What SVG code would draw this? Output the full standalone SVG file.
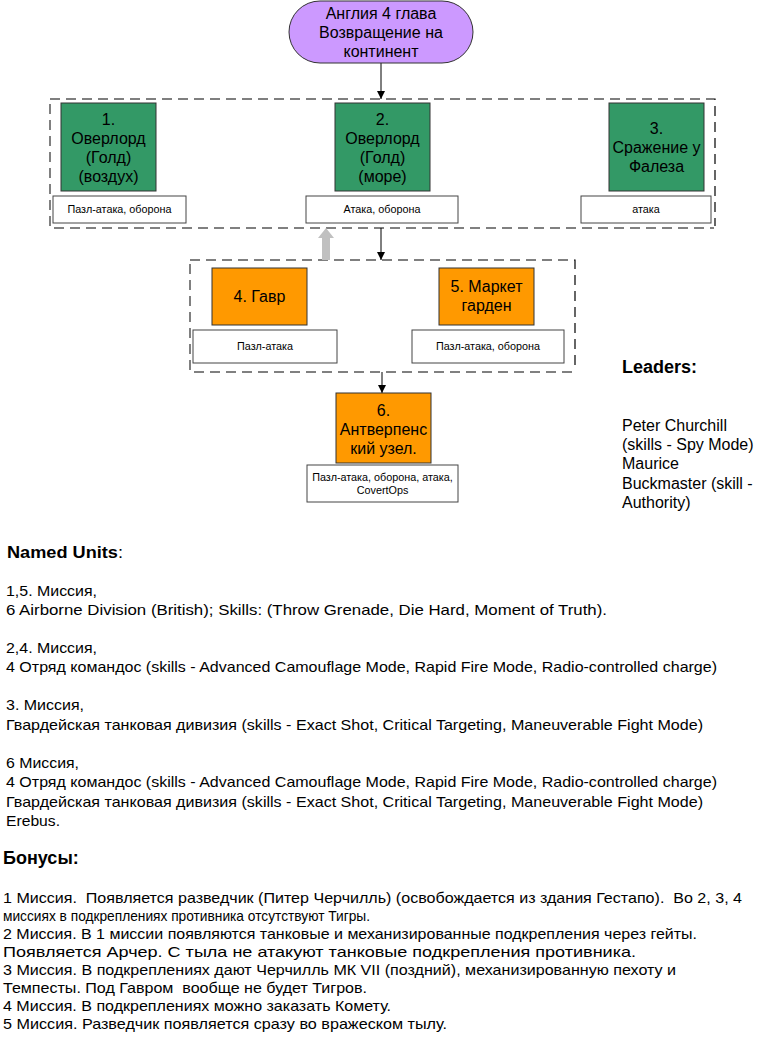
<svg xmlns="http://www.w3.org/2000/svg" width="768" height="1043" viewBox="0 0 768 1043">
<defs>
<style>
text{font-family:"Liberation Sans",Arial,sans-serif;fill:#000;white-space:pre}
.n{font-size:16px;text-anchor:middle}
.s{font-size:10.8px;text-anchor:middle}
.b{font-size:15px}
.l{font-size:16px}
.h{font-size:18px;font-weight:bold}
.green{fill:#339966;stroke:#333;stroke-width:1}
.orange{fill:#FF9900;stroke:#333;stroke-width:1}
.tb{fill:#fff;stroke:#444;stroke-width:1}
.dk{fill:none;stroke:#000;stroke-width:1.2;stroke-dasharray:10 6}
.gr{fill:none;stroke:#808080;stroke-width:2;stroke-dasharray:10 6}
.ln{fill:none;stroke:#000;stroke-width:1}
</style>
<marker id="ah" viewBox="0 0 10 10" refX="10" refY="5" markerWidth="8" markerHeight="8" markerUnits="userSpaceOnUse" orient="auto">
<path d="M0,0 L10,5 L0,10 z" fill="#000"/>
</marker>
</defs>
<rect width="768" height="1043" fill="#fff"/>

<g id="group1">
<path class="dk" d="M50,99 H715 V226"/>
<path class="gr" d="M50,104 V228 H714"/>
</g>
<g id="group2">
<path class="dk" d="M190,260 H575 V371"/>
<path class="gr" d="M190,264 V372 H575"/>
</g>

<g id="connectors">
<line class="ln" x1="381" y1="63" x2="381" y2="99" marker-end="url(#ah)"/>
<line class="ln" x1="381" y1="228" x2="381" y2="260" marker-end="url(#ah)"/>
<line class="ln" x1="382" y1="372" x2="382" y2="393" marker-end="url(#ah)"/>
<polygon points="326,228 334,238 330,238 330,260 322,260 322,238 318,238" fill="#C0C0C0"/>
</g>

<g id="title">
<rect x="289" y="1" width="184" height="62" rx="31" ry="31" fill="#CC99FF" stroke="#333" stroke-width="1"/>
<text class="n" x="381" y="19">Англия 4 глава</text>
<text class="n" x="381" y="38">Возвращение на</text>
<text class="n" x="381" y="57">континент</text>
</g>

<g id="node1">
<rect class="green" x="61" y="103" width="95" height="88"/>
<text class="n" x="108.5" y="125">1.</text>
<text class="n" x="108.5" y="144">Оверлорд</text>
<text class="n" x="108.5" y="163">(Голд)</text>
<text class="n" x="108.5" y="182">(воздух)</text>
<rect class="tb" x="53" y="196" width="133" height="27"/>
<text class="s" x="119.5" y="213">Пазл-атака, оборона</text>
</g>

<g id="node2">
<rect class="green" x="335" y="103" width="95" height="88"/>
<text class="n" x="382.5" y="125">2.</text>
<text class="n" x="382.5" y="144">Оверлорд</text>
<text class="n" x="382.5" y="163">(Голд)</text>
<text class="n" x="382.5" y="182">(море)</text>
<rect class="tb" x="306" y="196" width="152" height="27"/>
<text class="s" x="382" y="213">Атака, оборона</text>
</g>

<g id="node3">
<rect class="green" x="609" y="103" width="95" height="88"/>
<text class="n" x="656.5" y="134">3.</text>
<text class="n" x="656.5" y="153">Сражение у</text>
<text class="n" x="656.5" y="172">Фалеза</text>
<rect class="tb" x="581" y="196" width="130" height="27"/>
<text class="s" x="646" y="213">атака</text>
</g>

<g id="node4">
<rect class="orange" x="212" y="268" width="95" height="57"/>
<text class="n" x="259.5" y="302">4. Гавр</text>
<rect class="tb" x="193" y="330" width="144" height="33"/>
<text class="s" x="265" y="350">Пазл-атака</text>
</g>

<g id="node5">
<rect class="orange" x="439" y="268" width="95" height="57"/>
<text class="n" x="486.5" y="292">5. Маркет</text>
<text class="n" x="486.5" y="311">гарден</text>
<rect class="tb" x="412" y="330" width="152" height="33"/>
<text class="s" x="488" y="350">Пазл-атака, оборона</text>
</g>

<g id="node6">
<rect class="orange" x="336" y="393" width="95" height="70"/>
<text class="n" x="383.5" y="416">6.</text>
<text class="n" x="383.5" y="435">Антверпенс</text>
<text class="n" x="383.5" y="454">кий узел.</text>
<rect class="tb" x="307" y="465" width="151" height="37"/>
<text class="s" x="382.5" y="481">Пазл-атака, оборона, атака,</text>
<text class="s" x="382.5" y="494">CovertOps</text>
</g>

<g id="leaders">
<text class="h" x="622" y="373">Leaders:</text>
<text class="l" x="622" y="431">Peter Churchill</text>
<text class="l" x="622" y="450">(skills - Spy Mode)</text>
<text class="l" x="622" y="469">Maurice</text>
<text class="l" x="622" y="489">Buckmaster (skill -</text>
<text class="l" x="622" y="508">Authority)</text>
</g>

<g id="named-units">
<text x="7" y="558" style="font-size:17px" textLength="116" lengthAdjust="spacingAndGlyphs"><tspan font-weight="bold">Named Units</tspan>:</text>
<text class="b" x="6" y="596" textLength="91" lengthAdjust="spacingAndGlyphs">1,5. Миссия,</text>
<text class="b" x="6" y="615" textLength="601" lengthAdjust="spacingAndGlyphs">6 Airborne Division (British); Skills: (Throw Grenade, Die Hard, Moment of Truth).</text>
<text class="b" x="6" y="653" textLength="91" lengthAdjust="spacingAndGlyphs">2,4. Миссия,</text>
<text class="b" x="6" y="672" textLength="711" lengthAdjust="spacingAndGlyphs">4 Отряд командос (skills - Advanced Camouflage Mode, Rapid Fire Mode, Radio-controlled charge)</text>
<text class="b" x="6" y="710" textLength="78" lengthAdjust="spacingAndGlyphs">3. Миссия,</text>
<text class="b" x="6" y="730" textLength="697" lengthAdjust="spacingAndGlyphs">Гвардейская танковая дивизия (skills - Exact Shot, Critical Targeting, Maneuverable Fight Mode)</text>
<text class="b" x="6" y="768" textLength="73" lengthAdjust="spacingAndGlyphs">6 Миссия,</text>
<text class="b" x="6" y="787" textLength="711" lengthAdjust="spacingAndGlyphs">4 Отряд командос (skills - Advanced Camouflage Mode, Rapid Fire Mode, Radio-controlled charge)</text>
<text class="b" x="6" y="807" textLength="697" lengthAdjust="spacingAndGlyphs">Гвардейская танковая дивизия (skills - Exact Shot, Critical Targeting, Maneuverable Fight Mode)</text>
<text class="b" x="6" y="826" textLength="54" lengthAdjust="spacingAndGlyphs">Erebus.</text>
</g>

<g id="bonuses">
<text x="3" y="864" style="font-size:18px;font-weight:bold">Бонусы:</text>
<text class="b" x="3" y="903" textLength="739" lengthAdjust="spacingAndGlyphs">1 Миссия.  Появляется разведчик (Питер Черчилль) (освобождается из здания Гестапо).  Во 2, 3, 4</text>
<text class="b" x="3" y="921" textLength="367" lengthAdjust="spacingAndGlyphs">миссиях в подкреплениях противника отсутствуют Тигры.</text>
<text class="b" x="3" y="939" textLength="694" lengthAdjust="spacingAndGlyphs">2 Миссия. В 1 миссии появляются танковые и механизированные подкрепления через гейты.</text>
<text class="b" x="3" y="957" textLength="633" lengthAdjust="spacingAndGlyphs">Появляется Арчер. С тыла не атакуют танковые подкрепления противника.</text>
<text class="b" x="3" y="975" textLength="673" lengthAdjust="spacingAndGlyphs">3 Миссия. В подкреплениях дают Черчилль МК VII (поздний), механизированную пехоту и</text>
<text class="b" x="3" y="993" textLength="364" lengthAdjust="spacingAndGlyphs">Темпесты. Под Гавром  вообще не будет Тигров.</text>
<text class="b" x="3" y="1011" textLength="388" lengthAdjust="spacingAndGlyphs">4 Миссия. В подкреплениях можно заказать Комету.</text>
<text class="b" x="3" y="1029" textLength="444" lengthAdjust="spacingAndGlyphs">5 Миссия. Разведчик появляется сразу во вражеском тылу.</text>
</g>
</svg>
